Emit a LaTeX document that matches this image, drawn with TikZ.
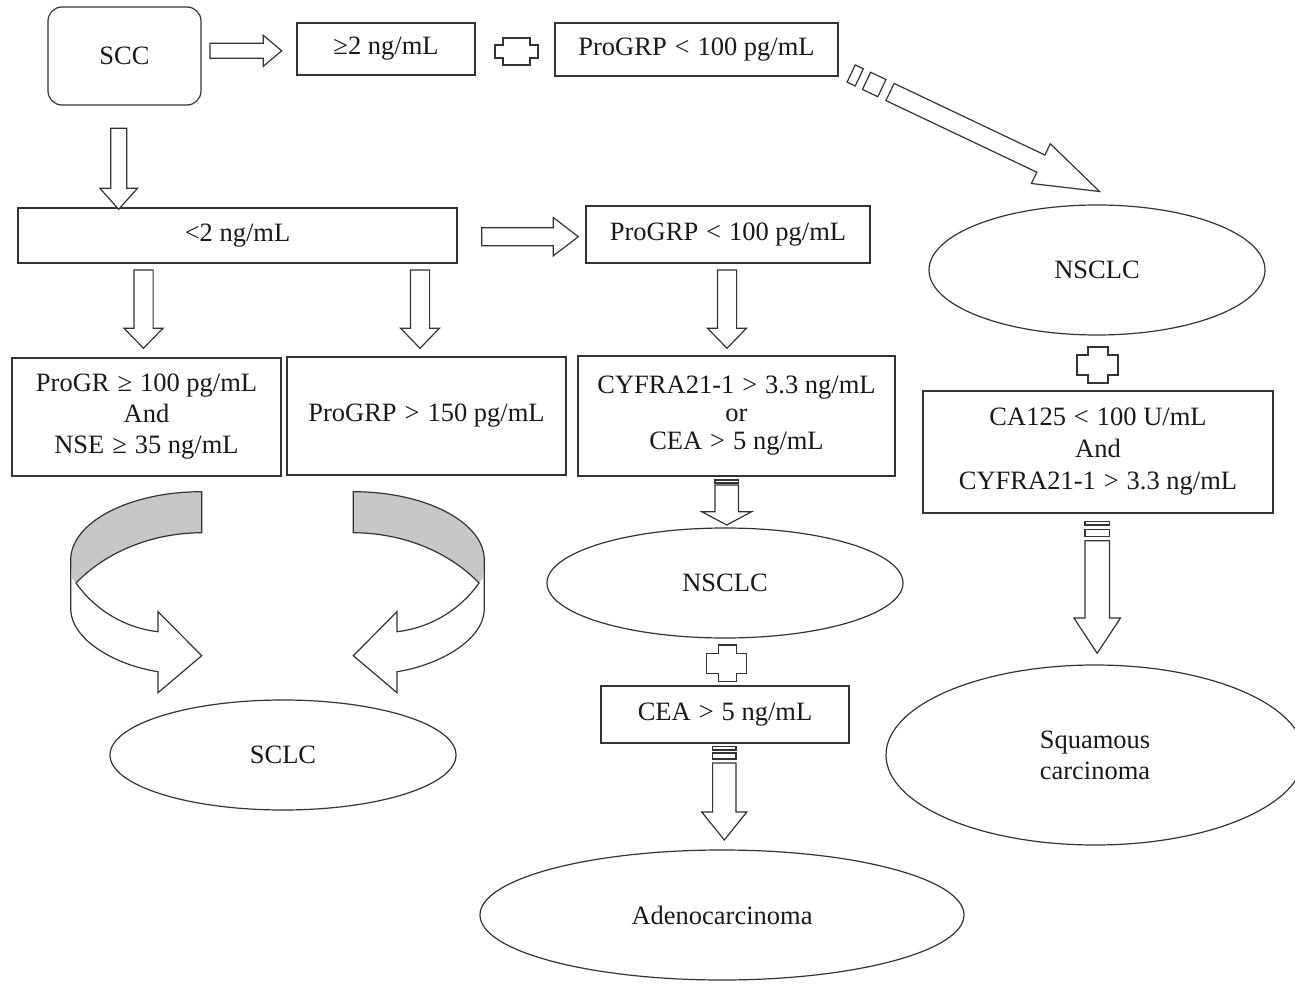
\documentclass[tikz,border=0pt]{standalone}
\usepackage{fontspec}
\setmainfont{Liberation Serif}
\usetikzlibrary{shapes.geometric}
\newcommand\mf{\fontsize{26.5}{31}\selectfont}
\newcommand\rl[1]{\hspace{0.3em}#1\hspace{0.3em}}
\newcommand\dnarrow[6]{% cx, ytop, ybase, ytip, shaft half, head half
  \draw[blk] ({#1-#5},#2) -- ({#1-#5},#3) -- ({#1-#6},#3) -- (#1,#4) -- ({#1+#6},#3) -- ({#1+#5},#3) -- ({#1+#5},#2) -- cycle;}
\newcommand\rtarrow[6]{% cy, xleft, xbase, xtip, shaft half, head half
  \draw[blk] (#2,{#1-#5}) -- (#3,{#1-#5}) -- (#3,{#1-#6}) -- (#4,#1) -- (#3,{#1+#6}) -- (#3,{#1+#5}) -- (#2,{#1+#5}) -- cycle;}
\newcommand\stripe[4]{% cx, half, y1, y2
  \draw[blk] ({#1-#2},#3) rectangle ({#1+#2},#4);}
\newcommand\plusshape[8]{% x1 x2 y1 y2 ax1 ax2 ay1 ay2
  \draw[blk] (#5,#3) -- (#6,#3) -- (#6,#7) -- (#2,#7) -- (#2,#8) -- (#6,#8) -- (#6,#4) -- (#5,#4) -- (#5,#8) -- (#1,#8) -- (#1,#7) -- (#5,#7) -- cycle;}
\newcommand\ribbonarrow{%
  \fill[black!22] (201.7,491.7) .. controls (129.4,491.7) and (70.7,522.3) .. (70.7,560) -- (72,578) -- (76,583) .. controls (105,553) and (150,533) .. (201.7,532.7) -- cycle;
  \draw[lw, line join=miter] (201.7,491.7) .. controls (129.4,491.7) and (70.7,522.3) .. (70.7,560) -- (70.7,610) .. controls (72,640) and (115,665) .. (158,671.7) -- (158,692.7) -- (201.7,655.7) -- (158,611.7) -- (158,631.7) .. controls (125,628) and (95,610) .. (76,583) .. controls (105,553) and (150,533) .. (201.7,532.7) -- cycle;}
\begin{document}
\begin{tikzpicture}[x=1pt,y=-1pt,
  lw/.style={line width=1.2pt, draw=black!80},
  box/.style={lw, rectangle, inner sep=0pt, align=center, font=\mf, text=black!90},
  oval/.style={lw, ellipse, inner sep=0pt, align=center, font=\mf, text=black!90},
  blk/.style={lw, fill=white, line join=miter}]
\useasboundingbox (0,0) rectangle (1295,984);

% nodes
\node[box, rounded corners=14pt, minimum width=153pt, minimum height=98pt] (scc) at (124.5,56) {SCC};
\node[box, minimum width=178pt, minimum height=52pt] (ge2) at (386,49) {≥2 ng/mL};
\node[box, minimum width=283pt, minimum height=53pt] (pg1) at (696.5,49.5) {ProGRP\rl{<}100 pg/mL};
\node[box, minimum width=439pt, minimum height=55pt] (lt2) at (237.5,235.5) {<2 ng/mL};
\node[box, minimum width=284pt, minimum height=57pt] (pg2) at (728,234.5) {ProGRP\rl{<}100 pg/mL};
\node[oval, minimum width=336pt, minimum height=130pt] (nsR) at (1097,270) {NSCLC};
\node[box, minimum width=269pt, minimum height=118pt] (b1) at (146.5,417) {ProGR\rl{≥}100 pg/mL\\And\\NSE\rl{≥}35 ng/mL};
\node[box, minimum width=279pt, minimum height=118pt] (b2) at (426.5,416) {ProGRP\rl{>}150 pg/mL};
\node[box, minimum width=317pt, minimum height=120pt] (b3) at (736.5,416) {CYFRA21-1\rl{>}3.3 ng/mL\\[-3pt]or\\[-3pt]CEA\rl{>}5 ng/mL};
\node[box, minimum width=350pt, minimum height=122pt] (b4) at (1098,452) {CA125\rl{<}100 U/mL\\[1pt]And\\[1pt]CYFRA21-1\rl{>}3.3 ng/mL};
\node[oval, minimum width=356pt, minimum height=110pt] (nsM) at (725,583) {NSCLC};
\node[box, minimum width=248pt, minimum height=57pt] (cea) at (725,714.5) {CEA\rl{>}5 ng/mL};
\node[oval, minimum width=484pt, minimum height=130pt] (adeno) at (722,915) {Adenocarcinoma};
\node[oval, minimum width=418pt, minimum height=180pt] (squam) at (1095,755) {Squamous\\carcinoma};
\node[oval, minimum width=346pt, minimum height=110pt] (sclc) at (283,755) {SCLC};

% block arrows
\rtarrow{50.8}{210}{263.3}{281.7}{7.5}{15.5}
\rtarrow{236.7}{481.7}{553.3}{578.3}{9}{19.2}
\dnarrow{118.7}{128.3}{188.3}{209.3}{8}{18.8}
\dnarrow{143.5}{270}{328.3}{348.3}{9.6}{19.4}
\dnarrow{420}{270}{328.3}{348.3}{9.6}{19.4}
\dnarrow{727}{270}{328.3}{348.3}{9.6}{19.4}

% striped arrows
\stripe{726.7}{11.7}{480}{483}
\dnarrow{726.7}{485}{511.7}{525}{11.7}{25}
\stripe{724.3}{11.7}{746.7}{750}
\stripe{724.3}{11.7}{753}{759}
\dnarrow{724.3}{763}{812}{840}{11.7}{22.5}
\stripe{1097.2}{12.2}{521.7}{525}
\stripe{1097.2}{12.2}{529.3}{536.7}
\dnarrow{1097.2}{540.7}{618}{653.3}{12.2}{23.3}

% diagonal striped arrow
\begin{scope}[shift={(890,92)}, rotate=-25.4]
  \draw[blk] (-43,-9.5) rectangle (-34,9.5);
  \draw[blk] (-26,-9.5) rectangle (-9,9.5);
  \draw[blk] (0,-9.5) -- (167,-9.5) -- (167,-22) -- (232,0) -- (167,22) -- (167,9.5) -- (0,9.5) -- cycle;
\end{scope}

% plus shapes
\plusshape{495}{538}{38}{65}{503}{530}{45}{58}
\plusshape{1077}{1118}{347}{383}{1088}{1108}{355}{375}
\plusshape{706.7}{746.7}{645}{681.7}{718.3}{736.7}{653.3}{673.3}

% ribbon arrows
\ribbonarrow
\begin{scope}[xshift=555pt, xscale=-1]
\ribbonarrow
\end{scope}
\end{tikzpicture}
\end{document}
